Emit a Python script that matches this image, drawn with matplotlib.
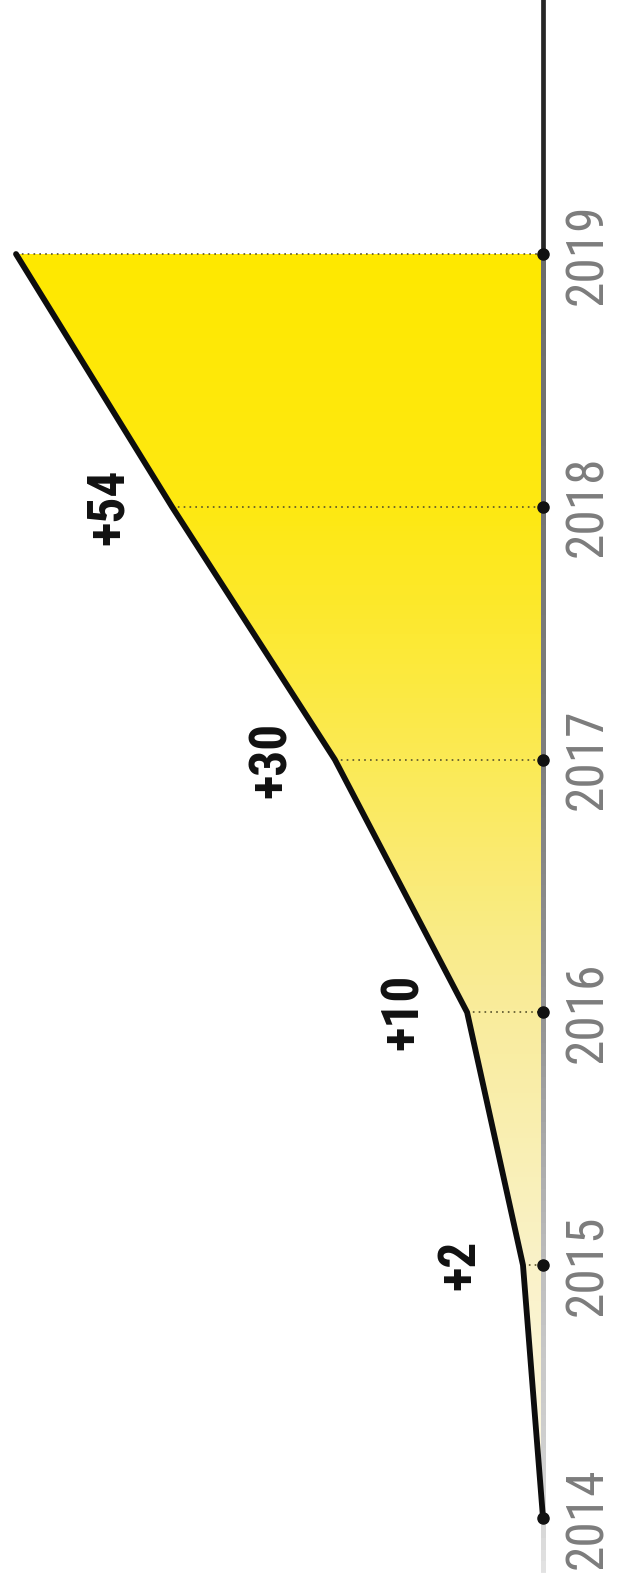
import numpy as np
import matplotlib
matplotlib.use('Agg')
import matplotlib.pyplot as plt
from matplotlib.colors import LinearSegmentedColormap
from matplotlib.collections import LineCollection
from matplotlib.transforms import blended_transform_factory

# data (vertical axis = year, horizontal = index, 2019 = 100)
years = [2014, 2015, 2016, 2017, 2018, 2019]
level = [0, 3.8, 14.4, 39.5, 70.4, 100]
gain_years = [2015, 2016, 2017, 2018]
gain_labels = ['+2', '+10', '+30', '+54']

narrow = ['Liberation Sans Narrow', 'Roboto Condensed', 'DejaVu Sans Condensed', 'DejaVu Sans']

fig = plt.figure(figsize=(6.17, 15.73), dpi=100)
ax = fig.add_axes([0, 0, 1, 1])
ax.set_xlim(103.04, -14.04)
ax.set_ylim(2013.782, 2020.005)
ax.axis('off')

# yellow gradient fill under the line
cmap = LinearSegmentedColormap.from_list('yl', [
    (0.0, '#fdf9e8'), (0.2, '#faf2c8'), (0.4, '#f9ec9c'),
    (0.6, '#fbea55'), (0.8, '#fee812'), (1.0, '#ffe800')])
grad = np.linspace(0, 1, 256).reshape(-1, 1)
im = ax.imshow(grad, cmap=cmap, origin='lower', aspect='auto',
               extent=(-1, 101, 2014, 2019), zorder=1)
poly = ax.fill_betweenx(years, 0, level, facecolor='none', edgecolor='none')
im.set_clip_path(poly.get_paths()[0], transform=ax.transData)

# baseline: dark above the last year, fading grey below
ax.plot([0, 0], [2019, 2020.1], color='#262626', lw=3.4, zorder=3)
ys = np.linspace(2013.7, 2019, 120)
segs = [[(0, a), (0, b + 0.02)] for a, b in zip(ys[:-1], ys[1:])]
gcm = LinearSegmentedColormap.from_list('gr', [
    (0.0, '#e8e8e8'), (0.04, '#d8d8d8'), (0.23, '#c0c0c0'),
    (0.42, '#959595'), (0.62, '#7e7e7e'), (1.0, '#6c6c6c')])
lc = LineCollection(segs, colors=gcm(np.linspace(0, 1, len(segs))), lw=3.4,
                    antialiaseds=False, zorder=3)
ax.add_collection(lc)

# dotted guides from the line to the baseline
for y, v in zip(years[1:], level[1:]):
    ax.plot([v, 0], [y, y], color='#58522a', lw=1.2, ls=(0, (1, 2.5)), zorder=2)

ax.plot(level, years, color='#0d0d0d', lw=4.2, solid_joinstyle='round',
        solid_capstyle='round', zorder=4)
ax.plot([0] * len(years), years, 'o', color='#111111', ms=8, zorder=5)

for y, t in zip(gain_years, gain_labels):
    v = level[years.index(y)]
    ax.annotate(t, (v, y), xytext=(-38, 0), textcoords='offset pixels',
                rotation=90, ha='right', va='center', fontsize=37,
                fontweight='bold', family=narrow, color='#111111', zorder=6)

tr = blended_transform_factory(ax.transAxes, ax.transData)
for y in years:
    ax.text(0.953, y, str(y), transform=tr, rotation=90, ha='center', va='center',
            fontsize=37, family=narrow, color='#7c7c7c')

fig.savefig('out.png', dpi=100, facecolor='white')
